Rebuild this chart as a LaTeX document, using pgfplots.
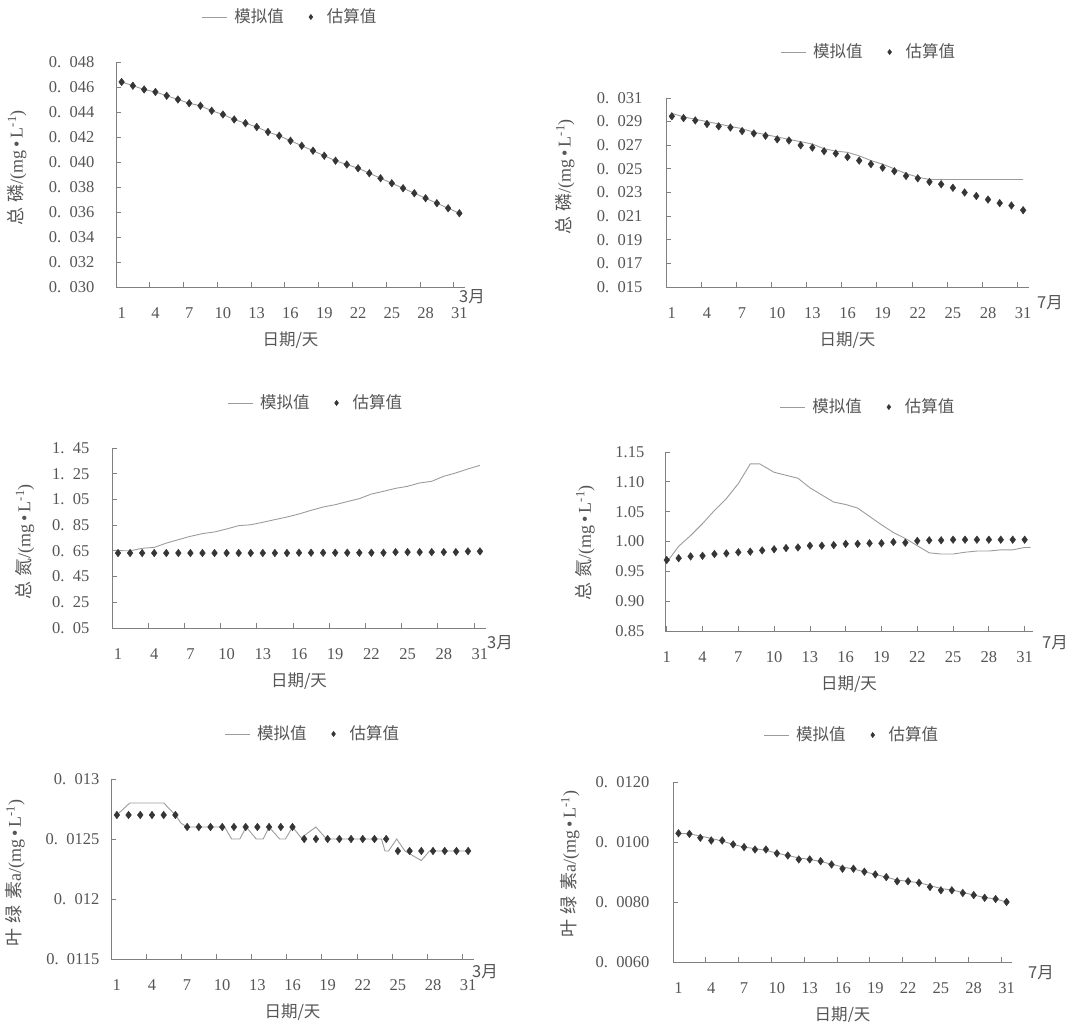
\documentclass[border=0pt]{standalone}
\usepackage{pgfplots}
\pgfplotsset{compat=1.18}
\usepackage{fontspec}
\setmainfont{Liberation Serif}
\newfontfamily\cjk{Noto Sans CJK SC}
\definecolor{txt}{HTML}{555555}
\definecolor{axg}{HTML}{808080}
\definecolor{lng}{HTML}{9C9C9C}
\definecolor{mkc}{HTML}{353535}
\newcommand\dn[2]{#1.\hspace{0.5em}#2}
\pgfplotsset{
 panel/.style={
  scale only axis, clip=false,
  axis x line*=bottom, axis y line*=left,
  axis line style={draw=axg, line width=0.8pt, -},
  tick align=inside,
  major tick length=5pt, minor tick length=5pt,
  tick style={draw=axg, line width=0.8pt},
  scaled y ticks=false,
  xtick={1,4,...,31},
  xticklabels={1,4,7,10,13,16,19,22,25,28,31},
  minor xtick={3.5,6.5,...,30.5},
  major x tick style={draw=none},
  xticklabel style={yshift=-15pt},
  xmin=0.5, xmax=31.5,
  every axis x label/.style={at={(axis description cs:0.5,0)}, anchor=center, yshift=-53pt},
  xlabel={\cjk 日期/天},
  every axis y label/.style={rotate=90, anchor=center, font=\fontsize{18}{21}\selectfont},
  legend columns=2,
  legend style={draw=none, fill=none, anchor=center, font=\cjk,
    /tikz/every even column/.append style={column sep=17pt}},
 },
 sim/.style={color=lng, line width=0.9pt, no marks,
   legend image code/.code={\draw[lng, line width=0.9pt] (0pt,0pt) -- (25pt,0pt); \path[draw=none, fill=none] (30pt,0pt);}},
 est/.style={color=mkc, only marks, mark=diamond*, mark size=3.8pt, mark options={fill=mkc, draw=mkc},
   legend image code/.code={\path[draw=none, fill=none] (0pt,-3pt) -- (22pt,3pt); \draw[mkc, fill=mkc, mark=diamond*, mark size=2.6pt] plot coordinates {(8pt,0pt)};}},
}
\begin{document}
\fontsize{16.5}{19.5}\selectfont\color{txt}%
\begin{tikzpicture}
\useasboundingbox (0,0) rectangle (1090pt,1022pt);

% ---------- Panel 1: TP, March ----------
\begin{axis}[panel, at={(116pt,735pt)}, anchor=south west, width=349pt, height=225pt,
  ymin=0.030, ymax=0.048,
  ytick={0.030,0.032,0.034,0.036,0.038,0.040,0.042,0.044,0.046,0.048},
  yticklabels={\dn{0}{030},\dn{0}{032},\dn{0}{034},\dn{0}{036},\dn{0}{038},\dn{0}{040},\dn{0}{042},\dn{0}{044},\dn{0}{046},\dn{0}{048}},
  yticklabel style={xshift=-16pt},
  ylabel={{\cjk 总\hspace{0.3em}磷}/(mg\,•\,L\textsuperscript{-1})},
  ylabel style={at={(axis description cs:-0.284,0.529)}},
  legend style={at={(axis description cs:0.499,1.2)}}]
\addplot[sim] coordinates {(1,0.0464)(2,0.0461)(3,0.0458)(4,0.0456)(5,0.0453)(6,0.0450)(7,0.0447)(8,0.0445)(9,0.0441)(10,0.0438)(11,0.0434)(12,0.0431)(13,0.0428)(14,0.0424)(15,0.0421)(16,0.0417)(17,0.0413)(18,0.0409)(19,0.0405)(20,0.0401)(21,0.0398)(22,0.0395)(23,0.0391)(24,0.0387)(25,0.0383)(26,0.0379)(27,0.0375)(28,0.0371)(29,0.0367)(30,0.0363)(31,0.0359)};
\addlegendentry{模拟值}
\addplot[est] coordinates {(1,0.0464)(2,0.0461)(3,0.0458)(4,0.0456)(5,0.0453)(6,0.0450)(7,0.0447)(8,0.0445)(9,0.0441)(10,0.0438)(11,0.0434)(12,0.0431)(13,0.0428)(14,0.0424)(15,0.0421)(16,0.0417)(17,0.0413)(18,0.0409)(19,0.0405)(20,0.0401)(21,0.0398)(22,0.0395)(23,0.0391)(24,0.0387)(25,0.0383)(26,0.0379)(27,0.0375)(28,0.0371)(29,0.0367)(30,0.0363)(31,0.0359)};
\addlegendentry{估算值}
\node[anchor=center, xshift=7pt, yshift=-10pt] at (rel axis cs:1,0) {\cjk 3月};
\end{axis}

% ---------- Panel 2: TP, July ----------
\begin{axis}[panel, at={(666pt,735pt)}, anchor=south west, width=363pt, height=189pt,
  ymin=0.015, ymax=0.031,
  ytick={0.015,0.017,0.019,0.021,0.023,0.025,0.027,0.029,0.031},
  yticklabels={\dn{0}{015},\dn{0}{017},\dn{0}{019},\dn{0}{021},\dn{0}{023},\dn{0}{025},\dn{0}{027},\dn{0}{029},\dn{0}{031}},
  yticklabel style={xshift=-18pt},
  ylabel={{\cjk 总\hspace{0.3em}磷}/(mg\,•\,L\textsuperscript{-1})},
  ylabel style={at={(axis description cs:-0.278,0.582)}},
  legend style={at={(axis description cs:0.559,1.243)}}]
\addplot[sim] coordinates {(1,0.0297)(2,0.0294)(3,0.0292)(4,0.0290)(5,0.0288)(6,0.0286)(7,0.0284)(8,0.0281)(9,0.0279)(10,0.0277)(11,0.0275)(12,0.0273)(13,0.0271)(14,0.0267)(15,0.0265)(16,0.0264)(17,0.0261)(18,0.0257)(19,0.0254)(20,0.0250)(21,0.0246)(22,0.0243)(23,0.0241)(24,0.0241)(25,0.0241)(26,0.0241)(27,0.0241)(28,0.0241)(29,0.0241)(30,0.0241)(31,0.0241)};
\addlegendentry{模拟值}
\addplot[est] coordinates {(1,0.02945)(2,0.0293)(3,0.0291)(4,0.0288)(5,0.0286)(6,0.0285)(7,0.0282)(8,0.0280)(9,0.0278)(10,0.0275)(11,0.0274)(12,0.0270)(13,0.0268)(14,0.0265)(15,0.0263)(16,0.0260)(17,0.0257)(18,0.0254)(19,0.0251)(20,0.0248)(21,0.0244)(22,0.0242)(23,0.0239)(24,0.0237)(25,0.0234)(26,0.0230)(27,0.0227)(28,0.0224)(29,0.0221)(30,0.0219)(31,0.0215)};
\addlegendentry{估算值}
\node[anchor=center, xshift=21pt, yshift=-16pt] at (rel axis cs:1,0) {\cjk 7月};
\end{axis}

% ---------- Panel 3: TN, March ----------
\begin{axis}[panel, at={(112pt,394pt)}, anchor=south west, width=374pt, height=180pt,
  ymin=0.05, ymax=1.45,
  ytick={0.05,0.25,0.45,0.65,0.85,1.05,1.25,1.45},
  yticklabels={\dn{0}{05},\dn{0}{25},\dn{0}{45},\dn{0}{65},\dn{0}{85},\dn{1}{05},\dn{1}{25},\dn{1}{45}},
  yticklabel style={xshift=-17pt},
  ylabel={{\cjk 总\hspace{0.3em}氮}/(mg\,•\,L\textsuperscript{-1})},
  ylabel style={at={(axis description cs:-0.233,0.478)}},
  legend style={at={(axis description cs:0.545,1.25)}}]
\addplot[sim] coordinates {(0.6,0.655)(1,0.652)(2,0.650)(3,0.670)(4,0.677)(5,0.710)(6,0.737)(7,0.763)(8,0.784)(9,0.797)(10,0.820)(11,0.846)(12,0.853)(13,0.872)(14,0.893)(15,0.913)(16,0.937)(17,0.965)(18,0.991)(19,1.009)(20,1.033)(21,1.056)(22,1.092)(23,1.113)(24,1.136)(25,1.152)(26,1.178)(27,1.191)(28,1.230)(29,1.256)(30,1.287)(31,1.315)};
\addlegendentry{模拟值}
\addplot[est] coordinates {(1,0.633)(2,0.633)(3,0.633)(4,0.633)(5,0.633)(6,0.633)(7,0.633)(8,0.633)(9,0.633)(10,0.633)(11,0.633)(12,0.633)(13,0.633)(14,0.633)(15,0.633)(16,0.635)(17,0.635)(18,0.635)(19,0.635)(20,0.635)(21,0.635)(22,0.635)(23,0.635)(24,0.640)(25,0.640)(26,0.640)(27,0.640)(28,0.640)(29,0.640)(30,0.646)(31,0.646)};
\addlegendentry{估算值}
\node[anchor=center, xshift=14pt, yshift=-15pt] at (rel axis cs:1,0) {\cjk 3月};
\end{axis}

% ---------- Panel 4: TN, July ----------
\begin{axis}[panel, at={(665pt,391pt)}, anchor=south west, width=368pt, height=179pt,
  xmin=0.855, xmax=31.7,
  minor xtick={}, major x tick style={draw=axg},
  ymin=0.85, ymax=1.15,
  ytick={0.85,0.90,0.95,1.00,1.05,1.10,1.15},
  yticklabels={0.85,0.90,0.95,1.00,1.05,1.10,1.15},
  yticklabel style={xshift=-15pt},
  ylabel={{\cjk 总\hspace{0.3em}氮}/(mg\,•\,L\textsuperscript{-1})},
  ylabel style={at={(axis description cs:-0.217,0.492)}},
  legend style={at={(axis description cs:0.552,1.251)}}]
\addplot[sim] coordinates {(1,0.965)(2,0.992)(3,1.010)(4,1.030)(5,1.052)(6,1.072)(7,1.097)(8,1.130)(8.8,1.130)(10,1.116)(11,1.111)(12,1.106)(13,1.090)(14,1.078)(15,1.066)(16,1.062)(17,1.056)(18,1.042)(19,1.028)(20,1.015)(21,1.005)(22,0.993)(23,0.981)(24,0.979)(25,0.979)(26,0.982)(27,0.984)(28,0.984)(29,0.986)(30,0.986)(31,0.990)(31.5,0.990)};
\addlegendentry{模拟值}
\addplot[est] coordinates {(1,0.969)(2,0.972)(3,0.975)(4,0.976)(5,0.979)(6,0.980)(7,0.982)(8,0.983)(9,0.985)(10,0.987)(11,0.989)(12,0.990)(13,0.993)(14,0.993)(15,0.994)(16,0.996)(17,0.996)(18,0.997)(19,0.997)(20,0.999)(21,0.998)(22,1.001)(23,1.002)(24,1.002)(25,1.003)(26,1.003)(27,1.003)(28,1.003)(29,1.003)(30,1.003)(31,1.003)};
\addlegendentry{估算值}
\node[anchor=center, xshift=22pt, yshift=-12pt] at (rel axis cs:1,0) {\cjk 7月};
\end{axis}

% ---------- Panel 5: Chl-a, March ----------
\begin{axis}[panel, at={(111pt,63pt)}, anchor=south west, width=363pt, height=180pt,
  ymin=0.0115, ymax=0.013,
  ytick={0.0115,0.012,0.0125,0.013},
  yticklabels={\dn{0}{0115},\dn{0}{012},\dn{0}{0125},\dn{0}{013}},
  yticklabel style={xshift=-6pt},
  ylabel={{\cjk 叶\hspace{0.3em}绿\hspace{0.3em}素}a/(mg\,•\,L\textsuperscript{-1})},
  ylabel style={at={(axis description cs:-0.264,0.478)}},
  legend style={at={(axis description cs:0.556,1.25)}}]
\addplot[sim] coordinates {(0.8,0.0127)(1,0.0127)(2.1,0.0128)(3,0.0128)(4,0.0128)(5,0.0128)(6,0.0127)(6.5,0.01263)(7,0.0126)(8,0.0126)(9,0.0126)(10.2,0.0126)(10.8,0.0125)(11.5,0.0125)(12.05,0.0126)(12.9,0.0125)(13.5,0.0125)(14,0.0126)(14.9,0.0125)(15.4,0.0125)(16,0.0126)(16.75,0.01251)(17.3,0.01255)(18,0.0126)(18.9,0.0125)(23.6,0.0125)(23.9,0.0124)(24.2,0.0124)(24.9,0.0125)(25.6,0.0124)(27,0.01232)(27.7,0.0124)(31,0.0124)};
\addlegendentry{模拟值}
\addplot[est] coordinates {(1,0.0127)(2,0.0127)(3,0.0127)(4,0.0127)(5,0.0127)(6,0.0127)(7,0.0126)(8,0.0126)(9,0.0126)(10,0.0126)(11,0.0126)(12,0.0126)(13,0.0126)(14,0.0126)(15,0.0126)(16,0.0126)(17,0.0125)(18,0.0125)(19,0.0125)(20,0.0125)(21,0.0125)(22,0.0125)(23,0.0125)(24,0.0125)(25,0.0124)(26,0.0124)(27,0.0124)(28,0.0124)(29,0.0124)(30,0.0124)(31,0.0124)};
\addlegendentry{估算值}
\node[anchor=center, xshift=11pt, yshift=-13pt] at (rel axis cs:1,0) {\cjk 3月};
\end{axis}

% ---------- Panel 6: Chl-a, July ----------
\begin{axis}[panel, at={(673pt,60pt)}, anchor=south west, width=339pt, height=180pt,
  ymin=0.006, ymax=0.012,
  ytick={0.006,0.008,0.010,0.012},
  yticklabels={\dn{0}{0060},\dn{0}{0080},\dn{0}{0100},\dn{0}{0120}},
  yticklabel style={xshift=-18pt},
  ylabel={{\cjk 叶\hspace{0.3em}绿\hspace{0.3em}素}a/(mg\,•\,L\textsuperscript{-1})},
  ylabel style={at={(axis description cs:-0.304,0.544)}},
  legend style={at={(axis description cs:0.528,1.261)}}]
\addplot[sim] coordinates {(1,0.01029)(2,0.01027)(3,0.01020)(4,0.01012)(5,0.01003)(6,0.00992)(7,0.00983)(8,0.00978)(9,0.00972)(10,0.00963)(11,0.00955)(12,0.00947)(13,0.00942)(14,0.00935)(15,0.00926)(16,0.00917)(17,0.00910)(18,0.00901)(19,0.00892)(20,0.00883)(21,0.00873)(22,0.00869)(23,0.00864)(24,0.00855)(25,0.00845)(26,0.00840)(27,0.00832)(28,0.00823)(29,0.00815)(30,0.00810)(31,0.00800)};
\addlegendentry{模拟值}
\addplot[est] coordinates {(1,0.01029)(2,0.01027)(3,0.01014)(4,0.01005)(5,0.01005)(6,0.00992)(7,0.00983)(8,0.00975)(9,0.00975)(10,0.00962)(11,0.00955)(12,0.00942)(13,0.00942)(14,0.00936)(15,0.00925)(16,0.00911)(17,0.00911)(18,0.00901)(19,0.00892)(20,0.00883)(21,0.00869)(22,0.00869)(23,0.00864)(24,0.00850)(25,0.00839)(26,0.00839)(27,0.00830)(28,0.00823)(29,0.00814)(30,0.00810)(31,0.00800)};
\addlegendentry{估算值}
\node[anchor=center, xshift=29pt, yshift=-11pt] at (rel axis cs:1,0) {\cjk 7月};
\end{axis}
\end{tikzpicture}
\end{document}
